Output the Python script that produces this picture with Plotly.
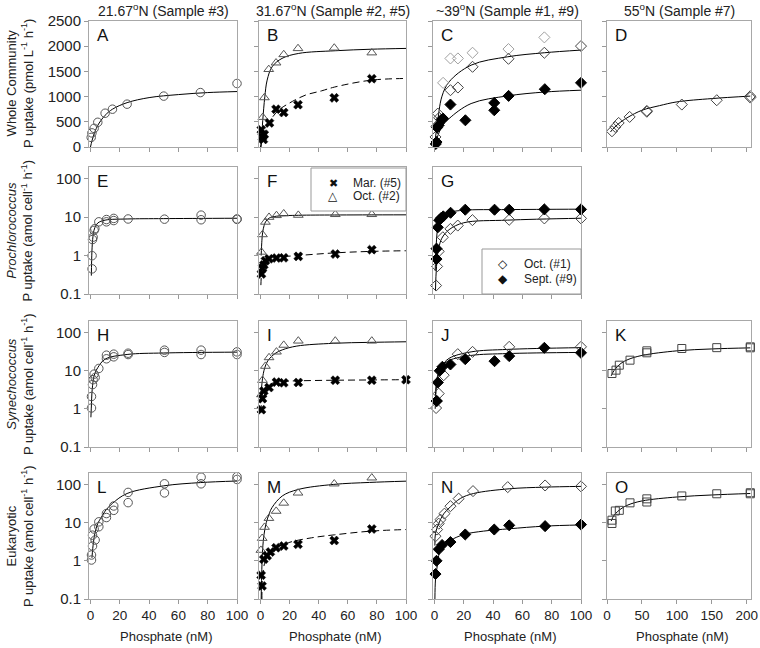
import plotly.graph_objects as go
from plotly.subplots import make_subplots

FONT = "Arial, Liberation Sans, sans-serif"
SYMFONT = "DejaVu Sans"
W, H = 760, 648

# ---------------- values ----------------
# Row 1: whole community P uptake (pmol L-1 h-1)
a_x = [0.5, 1, 2.5, 5, 10, 15, 25, 50, 75, 100]
a_y = [190, 280, 370, 490, 670, 750, 850, 1010, 1080, 1260]
a_fit_x = [0, 1, 2, 3, 5, 7, 10, 15, 25, 40, 60, 80, 100]
a_fit_y = [0, 120, 220, 300, 430, 520, 630, 750, 880, 980, 1040, 1080, 1100]

b_oct_x = [1.6, 2.7, 5.7, 10.7, 16, 25.8, 50.7, 76.5]
b_oct_y = [590, 980, 1540, 1670, 1835, 1955, 1965, 1870]
b_mar_x = [0.6, 1.3, 2.0, 2.6, 6.2, 10.7, 16, 25.8, 50.7, 76.5]
b_mar_y = [340, 200, 150, 250, 478, 750, 684, 840, 975, 1355]
b_oct_fit_x = [0.4, 1.6, 3, 4.6, 8, 14.8, 26.3, 51.4, 76, 100]
b_oct_fit_y = [0, 531, 995, 1327, 1591, 1758, 1857, 1910, 1940, 1956]
b_mar_fit_x = [0, 1, 2, 3.4, 6.8, 12.5, 19.4, 30.8, 42, 51, 76, 100]
b_mar_fit_y = [0, 120, 220, 332, 531, 730, 863, 1028, 1114, 1190, 1326, 1360]

c_oct_x = [0.7, 1.4, 2.3, 3.2, 10.9, 16, 26, 50.5, 75, 100]
c_oct_y = [199, 411, 663, 580, 1127, 1180, 1591, 1750, 1870, 2002]
c_oct2_x = [5.9, 10.9, 16, 26, 50.5, 75]
c_oct2_y = [1273, 1757, 1757, 1870, 1943, 2175]
c_sep_x = [0.9, 1.4, 1.8, 2.9, 4.8, 5.9, 10.9, 21.1, 40.8, 40.8, 50.6, 75.3, 100]
c_sep_y = [60, 99, 385, 431, 544, 564, 842, 530, 875, 729, 1014, 1147, 1273]
c_oct_fit_x = [0, 0.5, 1, 2, 5, 10, 25, 50, 75, 100]
c_oct_fit_y = [0, 130, 260, 464, 995, 1293, 1624, 1790, 1870, 1923]
c_sep_fit_x = [0, 1, 2, 5, 10, 25, 50, 75, 100]
c_sep_fit_y = [0, 100, 199, 398, 564, 862, 1014, 1090, 1127]

d_x = [7.1, 11.9, 16.7, 32.4, 57, 57, 107, 157, 205, 205]
d_y = [312, 398, 477, 597, 716, 700, 842, 928, 1008, 981]
d_fit_x = [5, 10, 20, 30, 50, 75, 100, 150, 205]
d_fit_y = [298, 380, 500, 590, 729, 820, 895, 961, 1010]

# Row 2: Prochlorococcus (amol cell-1 h-1)
e_x = [1.1, 1.1, 1.4, 1.8, 2.5, 3.0, 5.7, 10.9, 10.9, 15.9, 15.9, 25.7, 50.5, 75.5, 75.5, 100, 100]
e_y = [0.45, 0.99, 2.6, 3.0, 4.5, 5.0, 7.5, 8.6, 7.5, 9.2, 8.1, 8.9, 8.8, 11.2, 8.5, 8.9, 8.7]
e_fit_x = [0.6, 1.0, 1.5, 2, 3, 5, 10, 25, 50, 100]
e_fit_y = [0.3, 1.3, 2.6, 3.8, 5.3, 7.0, 8.3, 8.9, 9.1, 9.3]

f_oct_x = [0.7, 1.4, 3.4, 5.9, 11, 16, 26, 51.4, 76.5]
f_oct_y = [1.23, 3.5, 7.4, 9.9, 11.0, 12.2, 11.2, 11.7, 11.7]
f_mar_x = [0.7, 1.4, 2.3, 3.4, 5.9, 11, 16, 26, 51.4, 76.5]
f_mar_y = [0.33, 0.47, 0.57, 0.73, 0.82, 0.86, 0.87, 0.95, 1.09, 1.42]
f_oct_fit_x = [0.5, 1, 1.5, 2.5, 3.5, 6, 11, 26, 51, 100]
f_oct_fit_y = [1.0, 2.5, 4.0, 6.0, 7.5, 9.4, 10.5, 11.1, 11.3, 11.4]
f_mar_fit_x = [0.3, 0.7, 1.4, 2.5, 4, 6, 11, 26, 51, 76, 100]
f_mar_fit_y = [0.17, 0.33, 0.5, 0.64, 0.74, 0.82, 0.9, 1.0, 1.17, 1.28, 1.33]

g_sep_x = [1.4, 1.4, 2.3, 3.2, 4.5, 6, 11, 21, 41, 51, 75, 100]
g_sep_y = [0.81, 1.51, 5.4, 8.3, 9.4, 10.4, 12.9, 15.5, 15.5, 15.5, 15.8, 15.8]
g_oct_x = [1.1, 1.8, 2.9, 5.7, 10.9, 15.9, 25.9, 51, 75, 100]
g_oct_y = [0.166, 0.52, 1.28, 2.98, 4.92, 6.0, 8.3, 8.5, 9.2, 9.2]
g_sep_fit_x = [0.5, 1, 2, 3, 5, 10, 20, 50, 100]
g_sep_fit_y = [0.4, 1.4, 4.7, 7.5, 9.5, 13, 15, 15.6, 16]
g_oct_fit_x = [0.7, 1, 2, 3, 5, 10, 20, 50, 100]
g_oct_fit_y = [0.12, 0.28, 0.95, 1.6, 2.8, 4.7, 7.1, 8.3, 9.3]

# Row 3: Synechococcus (amol cell-1 h-1)
h_x = [0.7, 0.7, 1.4, 1.8, 2.5, 3.2, 5.7, 10.9, 10.9, 15.9, 15.9, 25.7, 25.7,
       50.5, 50.5, 75.5, 75.5, 100, 100]
h_y = [1.05, 2.1, 4.3, 5.8, 8.1, 6.6, 11.4, 25.4, 20.4, 27, 23, 26.4, 28.6,
       34.4, 30, 34.4, 26.4, 31, 26.4]
h_fit_x = [0.3, 0.7, 1, 2, 3, 5, 10, 25, 50, 100]
h_fit_y = [0.6, 1.4, 2.6, 6, 8.5, 12, 20, 26.5, 29, 30.5]

i_oct_x = [0.7, 1.4, 3.4, 5.9, 11, 16, 26, 51.4, 76.5, 100.5]
i_oct_y = [2.36, 5.6, 13.1, 22, 31, 46.6, 60, 60, 60, 57]
i_mar_x = [0.7, 1.4, 2.3, 5.9, 11, 16, 26, 51.4, 76.5, 100]
i_mar_y = [0.95, 1.85, 2.94, 3.6, 5.0, 4.8, 4.9, 5.6, 5.6, 5.8]
i_oct_fit_x = [0.3, 1, 2, 3, 5, 10, 15, 25, 50, 75, 100]
i_oct_fit_y = [1.5, 4.5, 8.5, 12, 18, 28, 35, 44, 52, 55, 57]
i_mar_fit_x = [0.3, 1, 2, 3, 5, 10, 15, 25, 50, 75, 100]
i_mar_fit_y = [0.8, 1.9, 2.9, 3.5, 4.2, 4.9, 5.2, 5.4, 5.6, 5.7, 5.8]

j_oct_x = [1.1, 1.8, 2.9, 6.3, 15.9, 26, 51, 100]
j_oct_y = [1.05, 1.6, 2.5, 7.6, 27, 31, 42, 42]
j_sep_x = [1.4, 2.3, 3.6, 5.4, 10.9, 21, 41, 51, 75, 100]
j_sep_y = [1.6, 4.9, 9.9, 12.6, 14.5, 20, 17.7, 24, 39.6, 29.3]
j_oct_fit_x = [0.5, 1, 2, 5, 10, 25, 50, 100]
j_oct_fit_y = [1.0, 2.8, 6.0, 13, 21, 31, 36, 40]
j_sep_fit_x = [0.5, 1, 2, 5, 10, 25, 50, 100]
j_sep_fit_y = [1.3, 3.5, 7.0, 13, 18.5, 25, 28, 30]

k_x = [7.1, 12.9, 17.6, 32.9, 57, 57, 107, 157, 205, 205]
k_y = [8.4, 10.3, 13.9, 18.8, 29.3, 33, 38, 40, 39.6, 42]
k_fit_x = [6, 10, 20, 30, 50, 100, 150, 205]
k_fit_y = [7.3, 10, 15.5, 19.5, 25, 33, 37, 39.5]

# Row 4: eukaryotic (amol cell-1 h-1)
l_x = [0.7, 0.7, 1.4, 1.4, 2.5, 3.2, 5.7, 5.7, 10.9, 10.9, 15.9, 15.9, 25.7, 25.7,
       50.5, 50.5, 75.5, 75.5, 100, 100]
l_y = [1.05, 1.42, 2.44, 4.7, 6.8, 3.5, 10.5, 7.8, 17.3, 13.6, 27.3, 21, 61.9, 33.4,
       104, 60, 155, 104, 160, 135]
l_fit_x = [1, 2, 3, 5, 7, 10, 15, 25, 50, 75, 100]
l_fit_y = [1.2, 3.0, 5.2, 9.5, 13, 20, 32, 58, 92, 112, 123]

m_oct_x = [0.3, 1.2, 2.8, 5.8, 10.8, 16, 25.8, 50.7, 76.5]
m_oct_y = [1.9, 3.9, 7.6, 13, 20, 32.6, 60, 104, 149]
m_mar_x = [0.5, 1.1, 2.3, 4.6, 6.8, 10.7, 16, 25.8, 50.7, 76.5]
m_mar_y = [0.42, 0.22, 1.1, 1.35, 1.7, 2.2, 2.45, 2.7, 3.4, 6.8]
m_oct_fit_x = [0.5, 0.8, 1.5, 2.5, 4, 6, 8, 15, 26, 50, 75, 100]
m_oct_fit_y = [0.1, 0.4, 2.0, 5.0, 10, 17, 25, 50, 74, 100, 113, 122]
m_mar_fit_x = [1, 1.5, 3.4, 8, 19.4, 35, 51, 76, 100]
m_mar_fit_y = [0.1, 0.4, 1.0, 1.9, 3.0, 4.0, 4.8, 6.0, 6.6]

n_oct_x = [0.7, 1.8, 2.9, 4.1, 6.8, 10.9, 16.5, 26.3, 50, 75.5, 100]
n_oct_y = [4.4, 6.6, 9.4, 12, 17.2, 27, 42.5, 67, 85, 94, 89]
n_sep_x = [0.7, 1.4, 2.9, 5.2, 10.9, 21, 40.8, 51, 75.5, 100]
n_sep_y = [0.45, 1.0, 2.0, 2.6, 3.1, 4.9, 6.6, 8.5, 8.1, 8.9]
n_oct_fit_x = [0.3, 0.7, 2.9, 6.3, 10.9, 17.7, 26.7, 51, 75, 100]
n_oct_fit_y = [2.5, 5.3, 9.4, 17, 26, 43, 58, 77, 85, 89]
n_sep_fit_x = [0.3, 0.7, 1.8, 3.6, 7.5, 13, 21, 33.5, 51, 75, 100]
n_sep_fit_y = [0.1, 0.32, 0.69, 1.7, 2.8, 3.8, 5.0, 6.0, 6.9, 8.1, 8.7]

o_x = [7.1, 7.1, 11.9, 17.6, 32.9, 57, 57, 107, 157, 205, 205]
o_y = [11.6, 9.5, 20.2, 21, 33, 42, 34.7, 50, 57, 60.7, 57]
o_fit_x = [6, 10, 20, 30, 50, 100, 150, 205]
o_fit_y = [11, 15.5, 23, 29, 37, 47, 53, 58]

col_titles = ["21.67<sup>o</sup>N (Sample #3)", "31.67<sup>o</sup>N (Sample #2, #5)",
              "~39<sup>o</sup>N (Sample #1, #9)", "55<sup>o</sup>N (Sample #7)"]
row_titles = ["Whole Community<br>P uptake (pmol L<sup>-1</sup> h<sup>-1</sup>)",
              "<i>Prochlorococcus</i><br>P uptake (amol cell<sup>-1</sup> h<sup>-1</sup>)",
              "<i>Synechococcus</i><br>P uptake (amol cell<sup>-1</sup> h<sup>-1</sup>)",
              "Eukaryotic<br>P uptake (amol cell<sup>-1</sup> h<sup>-1</sup>)"]
letters = [["A", "B", "C", "D"], ["E", "F", "G", None],
           ["H", "I", "J", "K"], ["L", "M", "N", "O"]]
# legend entries (symbol glyph, glyph size, label) for panels F and G
legend_f = [("\u2716", 11, "Mar. (#5)"), ("\u25b3", 12, "Oct. (#2)")]
legend_g = [("\u25c7", 12, "Oct. (#1)"), ("\u25c6", 12, "Sept. (#9)")]
row1_ticks = [0, 500, 1000, 1500, 2000, 2500]
log_ticks = [0.1, 1, 10, 100]
log_labels = ["0.1", "1", "10", "100"]
x_ticks = [0, 20, 40, 60, 80, 100]
x_ticks_wide = [0, 50, 100, 150, 200]

# pixel boxes of the panels (left, right) / (top, bottom)
cols_px = [(89, 237), (259, 406), (433, 581), (607, 751)]
rows_px = [(21, 147), (167, 294), (321, 447), (473, 599)]


def pts(x, y, symbol, color, size, lw=1):
    return go.Scatter(x=x, y=y, mode="markers", cliponaxis=False, showlegend=False,
                      marker=dict(symbol=symbol, color=color, size=size,
                                  line=dict(width=lw, color=color)))


def fit(x, y, dash="solid"):
    return go.Scatter(x=x, y=y, mode="lines", showlegend=False, hoverinfo="skip",
                      line=dict(color="black", width=1, shape="spline", dash=dash))


DASH = "7px,4px"
CIRC = dict(symbol="circle-open", color="#555", size=8.5)
TRI = dict(symbol="triangle-up-open", color="#555", size=8.5)
CROSS = dict(symbol="x", color="black", size=8, lw=0.5)
DIA_O = dict(symbol="diamond-open", color="#444", size=8.5)
DIA_F = dict(symbol="diamond", color="black", size=8.5)
SQ = dict(symbol="square-open", color="#444", size=8)

fig = make_subplots(rows=4, cols=4,
                    specs=[[{}, {}, {}, {}], [{}, {}, {}, None],
                           [{}, {}, {}, {}], [{}, {}, {}, {}]])

panels = {
    (1, 1): [fit(a_fit_x, a_fit_y), pts(a_x, a_y, **CIRC)],
    (1, 2): [fit(b_oct_fit_x, b_oct_fit_y), fit(b_mar_fit_x, b_mar_fit_y, DASH),
             pts(b_oct_x, b_oct_y, **TRI), pts(b_mar_x, b_mar_y, **CROSS)],
    (1, 3): [fit(c_oct_fit_x, c_oct_fit_y), fit(c_sep_fit_x, c_sep_fit_y),
             pts(c_oct2_x, c_oct2_y, "diamond-open", "#a0a0a0", 8.5),
             pts(c_oct_x, c_oct_y, **DIA_O), pts(c_sep_x, c_sep_y, **DIA_F)],
    (1, 4): [fit(d_fit_x, d_fit_y), pts(d_x, d_y, **DIA_O)],
    (2, 1): [fit(e_fit_x, e_fit_y), pts(e_x, e_y, **CIRC)],
    (2, 2): [fit(f_oct_fit_x, f_oct_fit_y), fit(f_mar_fit_x, f_mar_fit_y, DASH),
             pts(f_mar_x, f_mar_y, **CROSS), pts(f_oct_x, f_oct_y, **TRI)],
    (2, 3): [fit(g_sep_fit_x, g_sep_fit_y), fit(g_oct_fit_x, g_oct_fit_y),
             pts(g_oct_x, g_oct_y, **DIA_O), pts(g_sep_x, g_sep_y, **DIA_F)],
    (3, 1): [fit(h_fit_x, h_fit_y), pts(h_x, h_y, **CIRC)],
    (3, 2): [fit(i_oct_fit_x, i_oct_fit_y), fit(i_mar_fit_x, i_mar_fit_y, DASH),
             pts(i_oct_x, i_oct_y, **TRI), pts(i_mar_x, i_mar_y, **CROSS)],
    (3, 3): [fit(j_oct_fit_x, j_oct_fit_y), fit(j_sep_fit_x, j_sep_fit_y),
             pts(j_oct_x, j_oct_y, **DIA_O), pts(j_sep_x, j_sep_y, **DIA_F)],
    (3, 4): [fit(k_fit_x, k_fit_y), pts(k_x, k_y, **SQ)],
    (4, 1): [fit(l_fit_x, l_fit_y), pts(l_x, l_y, **CIRC)],
    (4, 2): [fit(m_oct_fit_x, m_oct_fit_y), fit(m_mar_fit_x, m_mar_fit_y, DASH),
             pts(m_oct_x, m_oct_y, **TRI), pts(m_mar_x, m_mar_y, **CROSS)],
    (4, 3): [fit(n_oct_fit_x, n_oct_fit_y), fit(n_sep_fit_x, n_sep_fit_y),
             pts(n_oct_x, n_oct_y, **DIA_O), pts(n_sep_x, n_sep_y, **DIA_F)],
    (4, 4): [fit(o_fit_x, o_fit_y), pts(o_x, o_y, **SQ)],
}
for (r, c), traces in panels.items():
    for t in traces:
        fig.add_trace(t, row=r, col=c)

axis_style = dict(showline=True, mirror=True, linecolor="#a8a8a8", linewidth=1,
                  ticks="outside", ticklen=4, tickcolor="#999", showgrid=False,
                  zeroline=False, automargin=False)
fig.update_xaxes(tickfont=dict(family=FONT, size=13.5, color="#222"), **axis_style)
fig.update_yaxes(tickfont=dict(family=FONT, size=15, color="#222"), **axis_style)

annotations = []
for r in range(1, 5):
    top, bot = rows_px[r - 1]
    for c in range(1, 5):
        if (r, c) == (2, 4):
            continue
        left, right = cols_px[c - 1]
        wide = c == 4
        fig.update_xaxes(domain=[left / W, right / W],
                         range=[0, 206] if wide else [-1, 100],
                         tickvals=x_ticks_wide if wide else x_ticks,
                         showticklabels=(r == 4), row=r, col=c)
        if r == 1:
            fig.update_yaxes(range=[0, 2500], tickvals=row1_ticks, row=r, col=c)
        else:
            fig.update_yaxes(type="log", range=[-1, 2.3], tickvals=log_ticks,
                             ticktext=log_labels, row=r, col=c)
        fig.update_yaxes(domain=[1 - bot / H, 1 - top / H],
                         showticklabels=(c == 1), row=r, col=c)
        annotations.append(dict(text=letters[r - 1][c - 1], xref="paper", yref="paper",
                                x=(left + 6) / W, y=1 - (top + 3) / H,
                                xanchor="left", yanchor="top", showarrow=False,
                                font=dict(family=FONT, size=17, color="#111")))

for c in range(4):
    left, right = cols_px[c]
    annotations.append(dict(text=col_titles[c], xref="paper", yref="paper",
                            x=(left + right) / 2 / W, y=1 - 10 / H,
                            xanchor="center", yanchor="middle", showarrow=False,
                            font=dict(family=FONT, size=14, color="#222")))
    annotations.append(dict(text="Phosphate (nM)", xref="paper", yref="paper",
                            x=((left + right) / 2 + 3) / W, y=1 - 636 / H,
                            xanchor="center", yanchor="middle", showarrow=False,
                            font=dict(family=FONT, size=13, color="#222")))

for r in range(4):
    top, bot = rows_px[r]
    annotations.append(dict(text=row_titles[r], xref="paper", yref="paper",
                            x=20 / W, y=1 - (top + bot) / 2 / H, textangle=-90,
                            xanchor="center", yanchor="middle", showarrow=False,
                            font=dict(family=FONT, size=13, color="#222")))

# hand-built legends: box, glyph, label
shapes = []
for entries, (bx0, bx1, by0, by1), sym_x, txt_x, ys in [
        (legend_f, (311, 406, 168, 211), 333, 351, [183, 196]),
        (legend_g, (482, 581, 249, 294), 503, 522, [264, 279])]:
    shapes.append(dict(type="rect", xref="paper", yref="paper",
                       x0=bx0 / W, x1=bx1 / W, y0=1 - by1 / H, y1=1 - by0 / H,
                       line=dict(color="#999", width=1), fillcolor="white", layer="above"))
    for (glyph, gsize, label), yy in zip(entries, ys):
        annotations.append(dict(text=glyph, xref="paper", yref="paper",
                                x=sym_x / W, y=1 - yy / H, xanchor="center",
                                yanchor="middle", showarrow=False,
                                font=dict(family=SYMFONT, size=gsize, color="#111")))
        annotations.append(dict(text=label, xref="paper", yref="paper",
                                x=txt_x / W, y=1 - yy / H, xanchor="left",
                                yanchor="middle", showarrow=False,
                                font=dict(family=FONT, size=12, color="#222")))

fig.update_layout(
    width=W, height=H,
    margin=dict(l=0, r=0, t=0, b=0),
    paper_bgcolor="white", plot_bgcolor="white",
    font=dict(family=FONT, color="#222"),
    showlegend=False,
    annotations=annotations,
    shapes=shapes,
)

# the page body has a default 8px margin; drop it so the figure sits at the window corner
fig.write_html("out.html", config={"displayModeBar": False},
               post_script="document.body.style.margin = '0';")
